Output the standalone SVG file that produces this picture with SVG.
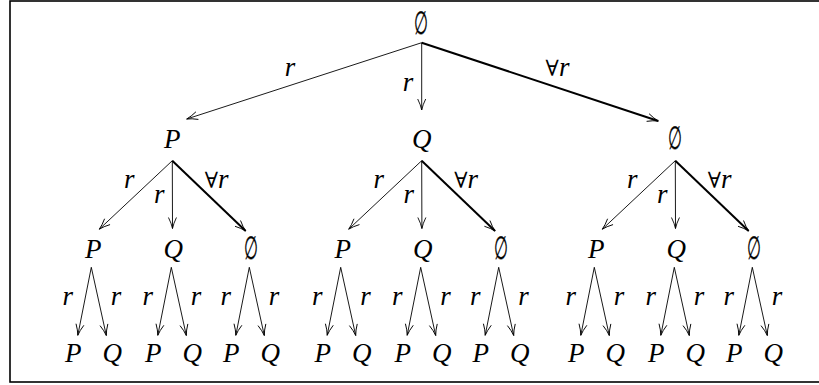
<svg xmlns="http://www.w3.org/2000/svg" width="819" height="385" viewBox="0 0 819 385">
<defs>
<style>
.l{stroke:#000;stroke-width:0.9;fill:none;marker-end:url(#ah)}
.k{stroke:#000;stroke-width:2;fill:none;marker-end:url(#ah)}
.es{font-family:"DejaVu Serif",serif;font-style:normal;font-size:32px;stroke:#000;stroke-width:0.35}
</style>
<marker id="ah" viewBox="-13 -5 15 10" refX="0" refY="0" markerWidth="15" markerHeight="10" markerUnits="userSpaceOnUse" orient="auto">
<path d="M-11,-4 Q-5,-1 0,0 Q-5,1 -11,4" fill="none" stroke="#000" stroke-width="0.9"/>
</marker>
</defs>
<rect x="10" y="1" width="812" height="381" fill="#fff" stroke="#000" stroke-width="1.6"/>

<g id="connectors">
<line class="l" x1="421.7" y1="42.7" x2="186.7" y2="119"/>
<line class="l" x1="421.7" y1="42.7" x2="421.7" y2="110"/>
<line class="k" x1="421.7" y1="42.7" x2="658.3" y2="121"/>

<line class="l" x1="172.3" y1="160.7" x2="99.3" y2="229.2"/>
<line class="l" x1="172.3" y1="160.7" x2="172.5" y2="228.5"/>
<line class="k" x1="172.3" y1="160.7" x2="245.7" y2="231"/>
<line class="l" x1="421.7" y1="160.7" x2="348.7" y2="229.2"/>
<line class="l" x1="421.7" y1="160.7" x2="421.9" y2="228.5"/>
<line class="k" x1="421.7" y1="160.7" x2="495.1" y2="231"/>
<line class="l" x1="675.3" y1="160.7" x2="602.3" y2="229.2"/>
<line class="l" x1="675.3" y1="160.7" x2="675.5" y2="228.5"/>
<line class="k" x1="675.3" y1="160.7" x2="748.7" y2="231"/>

<line class="l" x1="91.3" y1="267.3" x2="77.8" y2="335.3"/>
<line class="l" x1="91.3" y1="267.3" x2="106.3" y2="335.5"/>
<line class="l" x1="171.3" y1="267.3" x2="157.8" y2="335.3"/>
<line class="l" x1="171.3" y1="267.3" x2="186.3" y2="335.5"/>
<line class="l" x1="249.3" y1="267.3" x2="235.8" y2="335.3"/>
<line class="l" x1="249.3" y1="267.3" x2="264.3" y2="335.5"/>

<line class="l" x1="340.7" y1="267.3" x2="327.2" y2="335.3"/>
<line class="l" x1="340.7" y1="267.3" x2="355.7" y2="335.5"/>
<line class="l" x1="420.7" y1="267.3" x2="407.2" y2="335.3"/>
<line class="l" x1="420.7" y1="267.3" x2="435.7" y2="335.5"/>
<line class="l" x1="498.7" y1="267.3" x2="485.2" y2="335.3"/>
<line class="l" x1="498.7" y1="267.3" x2="513.7" y2="335.5"/>

<line class="l" x1="594.3" y1="267.3" x2="580.8" y2="335.3"/>
<line class="l" x1="594.3" y1="267.3" x2="609.3" y2="335.5"/>
<line class="l" x1="674.3" y1="267.3" x2="660.8" y2="335.3"/>
<line class="l" x1="674.3" y1="267.3" x2="689.3" y2="335.5"/>
<line class="l" x1="752.3" y1="267.3" x2="738.8" y2="335.3"/>
<line class="l" x1="752.3" y1="267.3" x2="767.3" y2="335.5"/>
</g>

<g id="edge-labels" font-family="Liberation Serif, Times New Roman, serif" font-style="italic" font-size="27" text-anchor="middle" fill="#000">
<text x="290" y="76">r</text>
<text x="408" y="91">r</text>
<text x="557.5" y="76"><tspan font-family="DejaVu Serif, serif" font-style="normal" font-size="22">∀</tspan>r</text>

<text x="129.3" y="188">r</text>
<text x="159.3" y="203">r</text>
<text x="216.7" y="188"><tspan font-family="DejaVu Serif, serif" font-style="normal" font-size="22">∀</tspan>r</text>
<text x="378.7" y="188">r</text>
<text x="408.7" y="203">r</text>
<text x="466.1" y="188"><tspan font-family="DejaVu Serif, serif" font-style="normal" font-size="22">∀</tspan>r</text>
<text x="632.3" y="188">r</text>
<text x="662.3" y="203">r</text>
<text x="719.7" y="188"><tspan font-family="DejaVu Serif, serif" font-style="normal" font-size="22">∀</tspan>r</text>

<text x="67.8" y="305">r</text><text x="116" y="305">r</text>
<text x="147.8" y="305">r</text><text x="196" y="305">r</text>
<text x="225.8" y="305">r</text><text x="274" y="305">r</text>
<text x="317.2" y="305">r</text><text x="365.4" y="305">r</text>
<text x="397.2" y="305">r</text><text x="445.4" y="305">r</text>
<text x="475.2" y="305">r</text><text x="523.4" y="305">r</text>
<text x="570.8" y="305">r</text><text x="619" y="305">r</text>
<text x="650.8" y="305">r</text><text x="699" y="305">r</text>
<text x="728.8" y="305">r</text><text x="777" y="305">r</text>
</g>

<g id="nodes" font-family="Liberation Serif, Times New Roman, serif" font-style="italic" font-size="27" text-anchor="middle" fill="#000">
<g id="root"><text class="es" transform="translate(421 34) scale(0.5 1)">∅</text></g>

<g id="n-P"><text x="172.3" y="147.5">P</text></g>
<g id="n-Q"><text x="421.7" y="147.5">Q</text></g>
<g id="n-E"><text class="es" transform="translate(675 148.5) scale(0.5 1)">∅</text></g>

<g id="n-PP"><text x="93.3" y="257.5">P</text></g>
<g id="n-PQ"><text x="173.3" y="257.5">Q</text></g>
<g id="n-PE"><text class="es" transform="translate(251.3 258.5) scale(0.5 1)">∅</text></g>
<g id="n-QP"><text x="342.7" y="257.5">P</text></g>
<g id="n-QQ"><text x="422.7" y="257.5">Q</text></g>
<g id="n-QE"><text class="es" transform="translate(500.7 258.5) scale(0.5 1)">∅</text></g>
<g id="n-EP"><text x="596.3" y="257.5">P</text></g>
<g id="n-EQ"><text x="676.3" y="257.5">Q</text></g>
<g id="n-EE"><text class="es" transform="translate(754.3 258.5) scale(0.5 1)">∅</text></g>

<g id="n-PPP"><text x="73.3" y="362">P</text></g>
<g id="n-PPQ"><text x="112.3" y="362">Q</text></g>
<g id="n-PQP"><text x="153.3" y="362">P</text></g>
<g id="n-PQQ"><text x="192.3" y="362">Q</text></g>
<g id="n-PEP"><text x="231.3" y="362">P</text></g>
<g id="n-PEQ"><text x="270.3" y="362">Q</text></g>
<g id="n-QPP"><text x="322.7" y="362">P</text></g>
<g id="n-QPQ"><text x="361.7" y="362">Q</text></g>
<g id="n-QQP"><text x="402.7" y="362">P</text></g>
<g id="n-QQQ"><text x="441.7" y="362">Q</text></g>
<g id="n-QEP"><text x="480.7" y="362">P</text></g>
<g id="n-QEQ"><text x="519.7" y="362">Q</text></g>
<g id="n-EPP"><text x="576.3" y="362">P</text></g>
<g id="n-EPQ"><text x="615.3" y="362">Q</text></g>
<g id="n-EQP"><text x="656.3" y="362">P</text></g>
<g id="n-EQQ"><text x="695.3" y="362">Q</text></g>
<g id="n-EEP"><text x="734.3" y="362">P</text></g>
<g id="n-EEQ"><text x="773.3" y="362">Q</text></g>
</g>
</svg>
